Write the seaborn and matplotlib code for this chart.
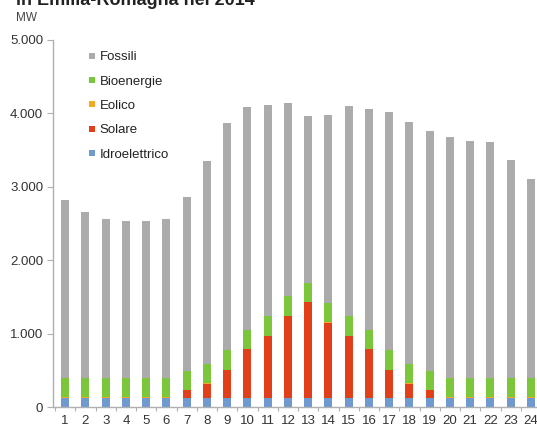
import matplotlib
matplotlib.use("Agg")
import matplotlib.pyplot as plt
from matplotlib.lines import Line2D
from matplotlib.ticker import FuncFormatter, FixedLocator
import numpy as np
import pandas as pd
import seaborn as sns

hours = [str(h) for h in range(1, 25)]
idroelettrico = [125] * 24
solare = [0, 0, 0, 0, 0, 0, 105, 195, 375, 660, 840, 1115, 1300, 1025, 840, 660,
          375, 195, 105, 0, 0, 0, 0, 0]
eolico = [5] * 24
bioenergie = [270, 270, 270, 270, 270, 270, 260, 260, 265, 260, 265, 265, 265, 265,
              265, 265, 265, 260, 260, 270, 270, 270, 270, 270]
fossili = [2415, 2255, 2165, 2135, 2135, 2165, 2365, 2770, 3105, 3040, 2885, 2625,
           2275, 2565, 2870, 3000, 3250, 3300, 3270, 3285, 3225, 3210, 2965, 2700]

series_names = ["Idroelettrico", "Solare", "Eolico", "Bioenergie", "Fossili"]
series_vals = [idroelettrico, solare, eolico, bioenergie, fossili]
colors = {"Fossili": "#ababab", "Bioenergie": "#7cc63c", "Eolico": "#f6a623",
          "Solare": "#e03f19", "Idroelettrico": "#7099d0"}

sns.set_style("white")
plt.rcParams["font.family"] = ["Liberation Sans", "DejaVu Sans"]

fig = plt.figure(figsize=(5.37, 4.28), dpi=100)
ax = fig.add_axes([53 / 537, 21 / 428, 1 - 53 / 537, 367 / 428])

# cumulative stacks, drawn tallest first
cum = np.cumsum(np.array(series_vals), axis=0)
for name, top in reversed(list(zip(series_names, cum))):
    df = pd.DataFrame({"hour": hours, "val": top})
    sns.barplot(data=df, x="hour", y="val", color=colors[name], width=0.4,
                saturation=1, linewidth=0, ax=ax, order=hours)

ax.set_ylim(0, 5000)
ax.set_xlim(-0.6, 23.3)
ax.set_xlabel("")
ax.set_ylabel("")
ax.set_yticks([0, 1000, 2000, 3000, 4000, 5000])
ax.yaxis.set_major_formatter(FuncFormatter(lambda v, p: f"{int(v):,}".replace(",", ".")))
for s in ["top", "right"]:
    ax.spines[s].set_visible(False)
for s in ["left", "bottom"]:
    ax.spines[s].set_color("#b0b0b0")
    ax.spines[s].set_linewidth(1.0)

ax.tick_params(axis="y", which="major", left=True, length=4, width=0.8, color="#b0b0b0",
               labelsize=9.5, labelcolor="#333333", pad=3)
ax.tick_params(axis="x", which="major", bottom=False, labelsize=9.5, labelcolor="#333333", pad=2)
ax.xaxis.set_minor_locator(FixedLocator(np.arange(-0.5, 24, 1)))
ax.tick_params(axis="x", which="minor", bottom=True, length=3, width=0.8, color="#b0b0b0")

handles = [Line2D([0], [0], marker="s", linestyle="none", markersize=4,
                  markerfacecolor=colors[n], markeredgewidth=0, label=n)
           for n in ["Fossili", "Bioenergie", "Eolico", "Solare", "Idroelettrico"]]
fig.legend(handles=handles, loc="upper left", bbox_to_anchor=(88 / 537, 1 - 51 / 428),
           frameon=False, fontsize=9.5, labelspacing=0.92, handlelength=0.6,
           handletextpad=0.3, labelcolor="#222222", borderaxespad=0, borderpad=0)

fig.text(16 / 537, 1 - 5 / 428, "in Emilia-Romagna nel 2014", fontsize=13,
         fontweight="bold", color="#222222", ha="left", va="baseline")
fig.text(16 / 537, 1 - 18 / 428, "MW", fontsize=8.5, color="#444444",
         ha="left", va="center")

fig.savefig("out.png", dpi=100, facecolor="white")
